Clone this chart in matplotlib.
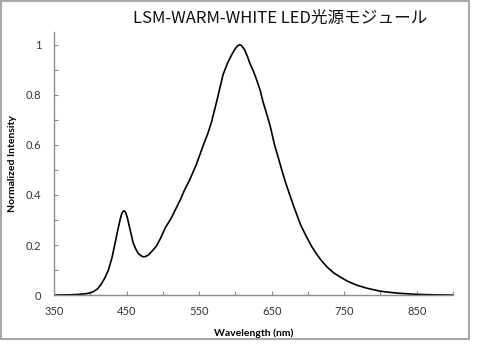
import matplotlib
matplotlib.use("Agg")
import matplotlib.pyplot as plt
from matplotlib.patches import Rectangle
from matplotlib.ticker import MultipleLocator

wavelength = [350, 370, 385, 395, 400, 405, 410, 415, 420, 425, 430, 434, 438, 441, 443, 445, 447, 449,
              451, 453, 455, 457, 459, 462, 466, 470, 473, 476, 480, 485, 491, 496, 500, 504, 508,
              512, 518, 524, 530, 537, 546, 556, 562, 567, 574, 583, 589, 595, 600, 603, 606, 609,
              613, 617, 620, 625, 629, 634, 638, 643, 648, 654, 661, 668, 675, 681, 690, 698, 705,
              711, 718, 726, 735, 744, 755, 767, 782, 799, 813, 827, 850, 875, 900]
intensity = [0.0, 0.001, 0.003, 0.006, 0.009, 0.015, 0.025, 0.043, 0.068, 0.10, 0.15, 0.205, 0.26,
             0.30, 0.322, 0.334, 0.337, 0.328, 0.31, 0.285, 0.26, 0.235, 0.21, 0.188, 0.167, 0.157,
             0.153, 0.154, 0.16, 0.175, 0.195, 0.222, 0.247, 0.272, 0.29, 0.31, 0.345, 0.38, 0.42,
             0.46, 0.52, 0.60, 0.645, 0.69, 0.77, 0.88, 0.925, 0.96, 0.985, 0.995, 1.0, 0.995, 0.978,
             0.95, 0.925, 0.893, 0.862, 0.82, 0.773, 0.725, 0.675, 0.60, 0.53, 0.46, 0.40, 0.35,
             0.28, 0.233, 0.195, 0.168, 0.14, 0.113, 0.09, 0.073, 0.055, 0.04, 0.027, 0.016, 0.011,
             0.007, 0.003, 0.001, 0.0]

title = "LSM-WARM-WHITE LED光源モジュール"
xlabel = "Wavelength (nm)"
ylabel = "Normalized Intensity"
xticks = [350, 450, 550, 650, 750, 850]
yticks = [0, 0.2, 0.4, 0.6, 0.8, 1.0]
yticklabels = ["0", "0.2", "0.4", "0.6", "0.8", "1"]

fig = plt.figure(figsize=(5.0, 3.53), dpi=100)
ax = fig.add_axes([0.108, 0.164, 0.798, 0.745])
ax.plot(wavelength, intensity, color="black", lw=1.2, solid_joinstyle="round")
ax.set_xlim(350, 900)
ax.set_ylim(0, 1.05)

for s in ["top", "right"]:
    ax.spines[s].set_visible(False)
for s in ["left", "bottom"]:
    ax.spines[s].set_color("#8c8c8c")
    ax.spines[s].set_linewidth(1.0)

ax.set_xticks(xticks)
ax.set_xticklabels([str(v) for v in xticks])
ax.set_yticks(yticks)
ax.set_yticklabels(yticklabels)
ax.xaxis.set_minor_locator(MultipleLocator(50))
ax.yaxis.set_minor_locator(MultipleLocator(0.1))
ax.tick_params(axis="both", which="both", direction="in", length=3, color="#8c8c8c", width=0.8)
ax.tick_params(axis="x", which="major", pad=8)
ax.tick_params(axis="y", which="major", pad=9)
for lab in ax.get_xticklabels() + ax.get_yticklabels():
    lab.set_family("Lato")
    lab.set_fontsize(8)
    lab.set_color("#333333")

ax.set_xlabel(xlabel, family="Lato", fontsize=7.5, fontweight="bold")
ax.xaxis.set_label_coords(0.5, -0.125)
ax.set_ylabel(ylabel, family="Lato", fontsize=7.5, fontweight="bold")
ax.yaxis.set_label_coords(-0.093, 0.5)

fig.text(0.56, 0.948, title, family=["Noto Sans CJK JP", "DejaVu Sans"], fontsize=12,
         ha="center", va="center", color="#111111")

fig.patches.append(Rectangle((0.002, 1 - 339 / 353), 0.936, 339 / 353 - 0.003,
                             transform=fig.transFigure, fill=False, edgecolor="#a8a8a8", lw=1.5))

fig.savefig("out.png", dpi=100, facecolor="white")
